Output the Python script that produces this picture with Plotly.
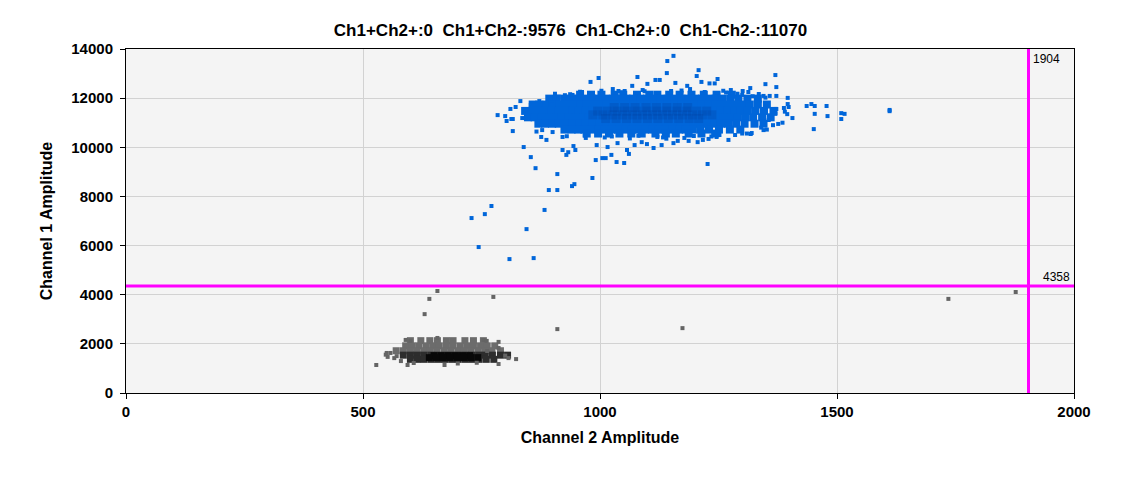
import plotly.graph_objs as go

# Thresholds drawn in magenta
THRESH_CH2 = 1904
THRESH_CH1 = 4358

TITLE = "Ch1+Ch2+:0  Ch1+Ch2-:9576  Ch1-Ch2+:0  Ch1-Ch2-:11070"

X_TICKS = [0, 500, 1000, 1500, 2000]
Y_TICKS = [0, 2000, 4000, 6000, 8000, 10000, 12000, 14000]

# Ch1+Ch2- droplets (blue), dense body read row by row
blue_row_y = [12140, 11980, 11740, 11480, 11220, 10960, 10720, 10560]
blue_row_x = [
    [958, 981, 1003, 1031, 1049, 1078, 1104, 1121, 1146, 1168, 1193, 1219, 1246, 1278],
    [893, 909, 925, 940, 954, 969, 983, 998, 1012, 1027, 1041, 1056, 1070, 1085,
     1099, 1114, 1128, 1143, 1157, 1172, 1186, 1201, 1215, 1230, 1244, 1259, 1275,
     1292, 1311, 1333],
    [858, 872, 887, 900, 915, 929, 943, 958, 971, 986, 1000, 1014, 1029, 1043, 1057,
     1071, 1086, 1100, 1114, 1128, 1143, 1157, 1171, 1186, 1200, 1214, 1228, 1243,
     1257, 1271, 1286, 1300, 1316, 1333, 1352],
    [842, 856, 870, 884, 898, 913, 927, 941, 955, 970, 984, 998, 1012, 1026, 1041,
     1055, 1069, 1083, 1098, 1112, 1126, 1140, 1155, 1169, 1183, 1197, 1212, 1226,
     1240, 1254, 1269, 1283, 1297, 1312, 1328, 1346, 1366],
    [848, 862, 877, 891, 905, 919, 934, 948, 962, 976, 991, 1005, 1019, 1033, 1048,
     1062, 1076, 1090, 1105, 1119, 1133, 1147, 1162, 1176, 1190, 1204, 1219, 1233,
     1247, 1261, 1276, 1290, 1306, 1323, 1342, 1360],
    [870, 884, 899, 913, 927, 941, 956, 970, 984, 998, 1013, 1027, 1041, 1055, 1070,
     1084, 1098, 1112, 1127, 1141, 1155, 1169, 1184, 1198, 1212, 1226, 1241, 1255,
     1270, 1287, 1305, 1326, 1345],
    [925, 940, 954, 967, 981, 996, 1010, 1024, 1038, 1053, 1067, 1081, 1095, 1110,
     1124, 1138, 1152, 1167, 1181, 1196, 1212, 1230, 1251, 1274, 1296],
    [972, 996, 1019, 1041, 1066, 1088, 1117, 1139, 1160, 1187, 1214, 1243],
]

# darker centre of the blue cluster
blue_dark_y = [11620, 11470, 11320, 11170]
blue_dark_x = [
    [1030, 1052, 1074, 1097, 1119, 1141, 1163, 1185],
    [995, 1015, 1036, 1057, 1078, 1099, 1120, 1141, 1162, 1183, 1204, 1225],
    [985, 1006, 1027, 1048, 1069, 1090, 1111, 1132, 1153, 1174, 1195, 1216, 1236],
    [1012, 1034, 1056, 1078, 1100, 1122, 1144, 1166, 1188, 1208],
]

# single blue droplets around the body
blue_sparse_x = [
    854, 864, 910, 892, 910, 941, 946, 984, 991, 1005, 1012, 1024, 1035, 771, 757,
    729, 883, 845, 744, 809, 860, 921, 933, 929, 948, 1227, 1051, 1061, 1057, 1016,
    876, 887, 839, 993, 1037, 1073, 921, 944,
    1436, 1446, 1453, 1453, 1451, 1478, 1480, 1509, 1516, 1509, 1611, 1611, 1406,
    1396, 1396, 1370, 1349, 1372, 1345, 1320, 1271, 1388, 1398, 1372, 1370, 1356,
    1155, 1142, 1208, 1141, 1204, 1079, 1248, 980, 997, 1068, 1100, 1027, 1006,
    1039, 1052, 942, 1117, 1126, 1159, 1184, 1214, 1231, 1242, 1276, 1280, 1301,
    1313, 1317, 1345, 1358, 1372,
    784, 800, 803, 816, 816, 832, 811, 822, 836, 843, 854, 872, 898, 813,
    1246, 1229, 1217, 1206, 1187, 1155, 1164, 1113, 1130, 1099, 1088,
    962, 1090, 1150, 1190, 1260, 905, 1335, 930, 970, 1140, 1300, 1340, 1365,
    1385, 1395, 1390,
    958, 1003, 1046, 1094, 1172, 1221, 1266, 1290, 1010, 1063, 1121, 1178, 1235,
    968, 1025, 1081, 1133, 1198, 1252, 1310, 878, 866, 1352, 1376,
    926, 937, 1300, 1322, 1349, 912, 900, 1285, 1318,
]
blue_sparse_y = [
    9600, 9150, 8910, 8260, 8260, 8420, 8500, 8750, 9480, 9560, 9560, 9690, 9400,
    7610, 7280, 7120, 7450, 6670, 5940, 5450, 5490, 9890, 9800, 9690, 9890, 9320,
    9360, 9730, 9890, 10010, 10420, 10300, 10010, 10090, 10170, 10090, 10420, 10050,
    11680, 11760, 11680, 11360, 10740, 11680, 11270, 11390, 11360, 11150, 11520,
    11470, 11190, 12010, 11760, 12940, 12570, 12450, 10700, 10580, 10300, 11600,
    11640, 11560, 11360, 11110,
    13720, 13510, 13140, 13020, 12900, 12860, 12780, 12660, 12820, 12500, 12580,
    12370, 12210, 12290, 12290, 12130, 12740, 12740, 12620, 12500, 12660, 12600,
    12600, 12330, 12210, 12290, 12250, 12410, 12090, 12090, 12090,
    11310, 11270, 11070, 11150, 10660, 11880, 11560, 11640, 11190, 11520, 11720,
    11880, 11760, 11150,
    10420, 10340, 10300, 10210, 10260, 10170, 10260, 9970, 10090, 10130, 10210,
    12250, 12330, 12290, 12370, 12300, 12180, 12170, 10450, 10380, 10350, 10560,
    10800, 10900, 11000, 11350, 11450,
    12260, 12300, 12240, 12280, 12310, 12250, 12230, 12180, 10400, 10360, 10420,
    10380, 10440, 10480, 10440, 10470, 10400, 10460, 10500, 10560, 10700, 10640,
    10720, 10950,
    12120, 12160, 12130, 12080, 12020, 12060, 10620, 10500, 10540,
]

# Ch1-Ch2- droplets (grey)
grey_row_y = [2130, 1920, 1720]
grey_row_x = [
    [600, 622, 641, 657, 676, 690, 715, 733, 754],
    [590, 604, 618, 633, 647, 661, 676, 690, 705, 719, 733, 748, 762, 778],
    [570, 585, 599, 613, 628, 642, 656, 671, 685, 700, 714, 728, 743, 757, 772, 790],
]
grey_dark_y = [1540, 1370]
grey_dark_x = [
    [585, 600, 614, 628, 643, 657, 672, 686, 700, 715, 729, 744, 758, 773, 790, 805],
    [600, 615, 629, 644, 658, 672, 687, 701, 716, 730, 745, 760, 776],
]
grey_core_y = [1520, 1440]
grey_core_x = [
    [650, 665, 680, 695, 710, 725],
    [640, 655, 669, 683, 698, 712, 727, 742],
]
grey_sparse_x = [528, 550, 558, 552, 566, 571, 594, 607, 672, 657, 590, 600, 754, 761,
                 786, 786, 762, 807, 823, 786, 548, 580, 700, 740, 800,
                 657, 640, 630, 775, 910, 1174, 1735, 1877]
grey_sparse_y = [1140, 1630, 1630, 1470, 1420, 1500, 1140, 1220, 1140, 2240, 2160,
                 2120, 2160, 2120, 2080, 1830, 1710, 1420, 1380, 1180, 1560, 1300,
                 1200, 1230, 1520,
                 4150, 3830, 3210, 3910, 2600, 2640, 3830, 4110]

FONT = "Liberation Sans, Arial, sans-serif"


def flatten(rows_x, rows_y):
    xs, ys = [], []
    for row, y in zip(rows_x, rows_y):
        for x in row:
            xs.append(x)
            ys.append(y)
    return xs, ys


def puntos(x, y, color, size, opacity=1.0):
    return go.Scatter(x=x, y=y, mode="markers", hoverinfo="skip",
                      marker=dict(symbol="square", size=size, color=color,
                                  opacity=opacity, line=dict(width=0)))


def ticks_dentro(rango, vals, **kw):
    # eje extra solo para dibujar las marcas hacia dentro
    return dict(range=rango, tickvals=vals, ticks="inside", ticklen=5,
                tickcolor="black", showticklabels=False, showgrid=False,
                zeroline=False, showline=False, automargin=False, **kw)


def main():
    data = []

    # grey cluster
    gx, gy = flatten(grey_row_x, grey_row_y)
    data.append(puntos(gx, gy, "rgb(108,108,108)", 7))
    gx, gy = flatten(grey_dark_x, grey_dark_y)
    data.append(puntos(gx, gy, "rgb(45,45,45)", 7))
    gx, gy = flatten(grey_core_x, grey_core_y)
    data.append(puntos(gx, gy, "rgb(8,8,8)", 7))
    data.append(puntos(grey_sparse_x, grey_sparse_y, "rgb(100,100,100)", 4))

    # blue cluster
    bx, by = flatten(blue_row_x, blue_row_y)
    data.append(puntos(bx, by, "rgb(0,102,218)", 8))
    bx, by = flatten(blue_dark_x, blue_dark_y)
    data.append(puntos(bx, by, "rgb(0,60,150)", 9, 0.22))
    data.append(puntos(blue_sparse_x, blue_sparse_y, "rgb(0,102,218)", 4))

    eje = dict(showgrid=True, gridcolor="#d2d2d2", gridwidth=1, zeroline=False,
               showline=True, linecolor="black", linewidth=1, mirror=True,
               ticks="outside", ticklen=5, tickcolor="black", automargin=False,
               tickformat="d",
               tickfont=dict(family=FONT, size=15, color="black", weight="bold"))

    # the page adds 8px on the left and top, margins take that into account
    layout = go.Layout(
        width=1125, height=478,
        margin=dict(l=118, r=59, t=41, b=93),
        paper_bgcolor="white", plot_bgcolor="#f4f4f4",
        showlegend=False,
        title=dict(text=TITLE, x=0.5, xanchor="center", y=0.954, yanchor="middle",
                   automargin=False,
                   font=dict(family=FONT, size=17, color="black", weight="bold")),
        xaxis=dict(eje, range=[0, 2000], tickvals=X_TICKS,
                   title=dict(text="Channel 2 Amplitude", standoff=12,
                              font=dict(family=FONT, size=16, color="black",
                                        weight="bold"))),
        yaxis=dict(eje, range=[0, 14000], tickvals=Y_TICKS,
                   ticklabelstandoff=4,
                   title=dict(text="Channel 1 Amplitude", standoff=14,
                              font=dict(family=FONT, size=16, color="black",
                                        weight="bold"))),
        xaxis2=ticks_dentro([0, 2000], X_TICKS, overlaying="x", side="top",
                            anchor="y"),
        yaxis2=ticks_dentro([0, 14000], Y_TICKS, overlaying="y", side="right",
                            anchor="x"),
        yaxis3=ticks_dentro([0, 14000], Y_TICKS, overlaying="y", side="left",
                            anchor="x"),
    )
    fig = go.Figure(data=data, layout=layout)

    # umbrales
    fig.add_shape(type="line", x0=THRESH_CH2, x1=THRESH_CH2, y0=0, y1=14000,
                  line=dict(color="#ff00ff", width=3))
    fig.add_shape(type="line", x0=0, x1=2000, y0=THRESH_CH1, y1=THRESH_CH1,
                  line=dict(color="#ff00ff", width=3))
    fig.add_annotation(x=THRESH_CH2, y=14000, text=str(THRESH_CH2), showarrow=False,
                       xanchor="left", yanchor="top", xshift=2, yshift=-1,
                       font=dict(family=FONT, size=12, color="black"))
    fig.add_annotation(x=2000, y=THRESH_CH1, text=str(THRESH_CH1), showarrow=False,
                       xanchor="right", yanchor="bottom", xshift=-2, yshift=0,
                       font=dict(family=FONT, size=12, color="black"))

    fig.write_html("out.html")


if __name__ == "__main__":
    main()
